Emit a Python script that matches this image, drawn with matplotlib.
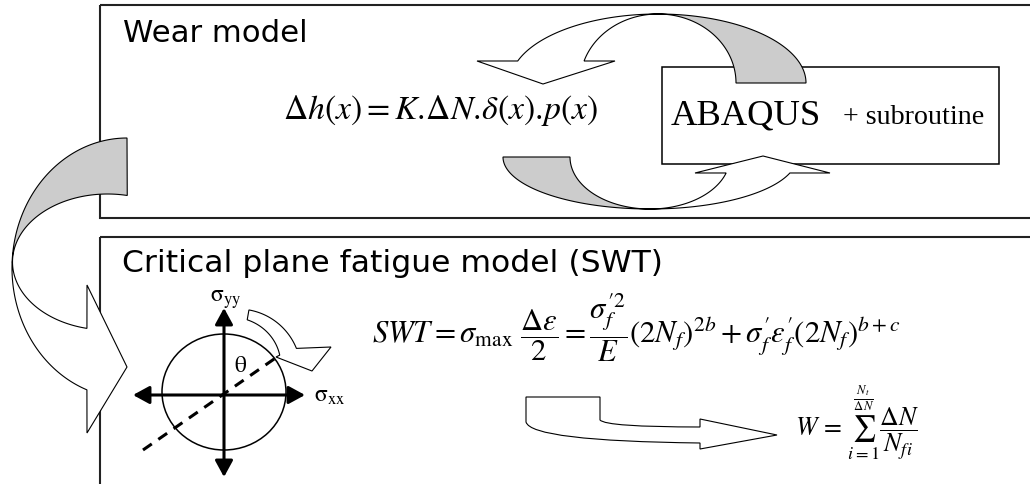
import numpy as np
import matplotlib
matplotlib.use('Agg')
import matplotlib.pyplot as plt
from matplotlib.patches import Polygon, Rectangle, Ellipse, PathPatch
from matplotlib.path import Path

plt.rcParams['mathtext.fontset'] = 'stix'
plt.rcParams['font.family'] = ['DejaVu Sans']

# ---- texts ----
title_top = 'Wear model'
title_bottom = 'Critical plane fatigue model (SWT)'
wear_formula = r'$\Delta h(x) = K.\!\Delta N.\!\delta(x).\!p(x)$'
abaqus_main = 'ABAQUS'
abaqus_sub = '+ subroutine'
swt_formula = (r'$SWT = \sigma_{\max}\ \dfrac{\Delta\varepsilon}{2} = '
               r'\dfrac{\sigma_f^{\prime 2}}{E}\left(2N_f\right)^{2b} + '
               r'\sigma_f^{\prime}\varepsilon_f^{\prime}(2N_f)^{b+c}$')
w_formula = r'$W \,=\, \sum_{i=1}^{\frac{N_t}{\Delta N}} \dfrac{\Delta N}{N_{fi}}$'
label_syy = r'$\mathrm{\sigma_{yy}}$'
label_sxx = r'$\mathrm{\sigma_{xx}}$'
label_theta = r'$\mathrm{\theta}$'

W, H = 1030, 484
fig = plt.figure(figsize=(W / 100, H / 100), dpi=100)
ax = fig.add_axes([0, 0, 1, 1])
ax.set_xlim(0, W)
ax.set_ylim(H, 0)
ax.axis('off')
renderer = fig.canvas.get_renderer()

GREY = '#cccccc'
BOX = '#222222'
LW = 0.8


def ell(cx, cy, a, b, t0, t1, n=90):
    t = np.radians(np.linspace(t0, t1, n))
    return np.column_stack([cx + a * np.cos(t), cy + b * np.sin(t)])


def poly(pts, fc, z=3):
    ax.add_patch(Polygon(pts, closed=True, fc=fc, ec='black', lw=LW, zorder=z,
                         joinstyle='miter'))


def fit(s, x, y, width, ha='left', va='baseline', size=12, **kw):
    t = ax.text(x, y, s, fontsize=size, ha=ha, va=va, zorder=5, **kw)
    bb = t.get_window_extent(renderer)
    t.set_fontsize(size * width / bb.width)
    return t


# ---- frames ----
ax.add_patch(Rectangle((100, 5), 1000, 213, fill=False, ec=BOX, lw=1.5, zorder=1))
ax.add_patch(Rectangle((100, 237), 1000, 320, fill=False, ec=BOX, lw=1.5, zorder=1))
ax.add_patch(Rectangle((662, 67), 337, 97, fc='white', ec='black', lw=1.1, zorder=2))

# ---- loop arrows in the wear box ----
poly(np.vstack([ell(658, 83, 148, 69, -90, 0), ell(658, 83, 78, 69, 0, -90)]), GREY)
poly(np.vstack([ell(658, 83, 148, 69, -90, -161.4),
                [[477, 61], [543, 84], [615, 61]],
                ell(658, 83, 78, 69, -161.4, -90)]), 'white')
poly(np.vstack([ell(650, 157, 147, 52, 180, 90), ell(650, 157, 80, 52, 90, 180)]), GREY)
poly(np.vstack([ell(650, 157, 147, 52, 90, 17.9),
                [[830, 173], [763, 156], [695, 173]],
                ell(650, 157, 80, 52, 17.9, 90)]), 'white')

# ---- big left arrow ----
poly(np.vstack([ell(127, 268, 115, 130, 270, 182.6),
                ell(107.5, 262, 95, 68, 180, 282)]), GREY)
poly(np.vstack([ell(127, 268, 115, 130, 182.6, 110.4),
                [[87, 433], [127, 367], [87, 285]],
                ell(107.5, 262, 95, 68, 102.5, 180)]), 'white')

# ---- stress circle ----
ax.add_patch(Ellipse((224, 392), 124, 116, fill=False, ec='black', lw=1.1, zorder=3))
ax.plot([143, 277], [450, 357], color='black', lw=2.2, ls=(0, (3.5, 2.6)), zorder=3)
arrow_kw = dict(arrowstyle='<|-|>,head_length=0.55,head_width=0.3', lw=2.2,
                color='black', shrinkA=0, shrinkB=0, mutation_scale=18)
ax.annotate('', xy=(305, 395), xytext=(133, 395), arrowprops=arrow_kw, zorder=4)
ax.annotate('', xy=(224, 308), xytext=(224, 477), arrowprops=arrow_kw, zorder=4)

# rotation arrow
tt = np.linspace(-80, -22, 60)
rin = np.linspace(53, 45, 60)
outer = np.column_stack([238 + 63 * np.cos(np.radians(tt)), 372 + 63 * np.sin(np.radians(tt))])
inner = np.column_stack([238 + rin * np.cos(np.radians(tt)), 372 + rin * np.sin(np.radians(tt))])[::-1]
poly(np.vstack([outer, [[331, 347], [312, 371], [276, 357]], inner]), 'white', z=4)

ax.text(226, 299, label_syy, fontsize=17, ha='center', va='center', zorder=5)
ax.text(330, 395, label_sxx, fontsize=17, ha='center', va='center', zorder=5)
ax.text(241, 365, label_theta, fontsize=17, ha='center', va='center', zorder=5)

# bent arrow to W
verts = [(526, 397), (600, 397), (600, 420), (606, 427), (700, 427), (700, 419),
         (777, 435), (700, 449), (700, 443), (531, 441), (526, 422), (526, 397)]
codes = [Path.MOVETO, Path.LINETO, Path.LINETO, Path.CURVE3, Path.CURVE3, Path.LINETO,
         Path.LINETO, Path.LINETO, Path.LINETO, Path.CURVE3, Path.CURVE3, Path.CLOSEPOLY]
ax.add_patch(PathPatch(Path(verts, codes), fc='white', ec='black', lw=LW, zorder=3))

# ---- text ----
fit(title_top, 123, 42, 184)
fit(title_bottom, 122, 272, 538)
fit(wear_formula, 283, 119, 317)
fit(abaqus_main, 671, 124, 149, family='Liberation Serif')
fit(abaqus_sub, 984, 124, 141, ha='right', family='Liberation Serif')
fit(swt_formula, 372, 343, 531)
fit(w_formula, 795, 435, 125)

fig.savefig('out.png', dpi=100)
